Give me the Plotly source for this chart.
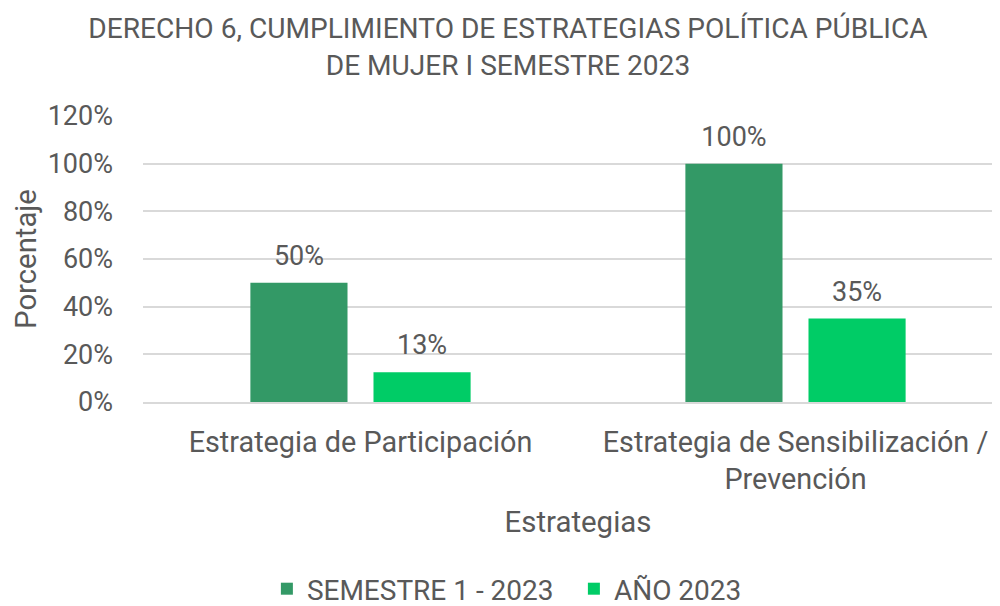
import plotly.graph_objects as go

categories = ["Estrategia de Participación", "Estrategia de Sensibilización /<br>Prevención"]
semestre_vals = [50, 100]
anio_vals = [12.5, 35]
series_names = ["SEMESTRE 1 - 2023", "AÑO 2023"]
series_colors = ["#339966", "#00CC66"]
tick_vals = [0, 20, 40, 60, 80, 100, 120]
tick_text = ["0%", "20%", "40%", "60%", "80%", "100%", "120%"]

GRAY = "#595959"
FONT = "Roboto"

fig = go.Figure()
for name, vals, col in zip(series_names, [semestre_vals, anio_vals], series_colors):
    fig.add_trace(go.Bar(
        x=categories, y=vals, name=name,
        marker=dict(color=col, line=dict(width=0)),
    ))
# value labels, aligned with the grouped bars
for name, vals in zip(series_names, [semestre_vals, anio_vals]):
    fig.add_trace(go.Scatter(
        x=categories, y=vals, mode="markers+text", showlegend=False,
        text=[f"{round(v + 1e-9):.0f}%" for v in vals],
        textposition="top center",
        textfont=dict(size=27, color=GRAY, family=FONT),
        marker=dict(size=16, opacity=0, color="white"),
        cliponaxis=False, hoverinfo="skip",
    ))

fig.update_layout(
    width=1008, height=606,
    paper_bgcolor="white", plot_bgcolor="white",
    font=dict(family=FONT, color=GRAY, size=27),
    barmode="group", bargap=0.434, bargroupgap=0.211,
    scattermode="group", scattergap=0.434,
    margin=dict(l=135, r=3, t=108, b=212),
    title=dict(
        text="DERECHO 6, CUMPLIMIENTO DE ESTRATEGIAS POLÍTICA PÚBLICA<br>DE MUJER I SEMESTRE 2023",
        x=0.496, xanchor="center", y=0.95, yanchor="top",
        font=dict(size=28.1, color=GRAY, family=FONT),
    ),
    xaxis=dict(
        title=dict(text="Estrategias", font=dict(size=29.4, color=GRAY), standoff=16),
        tickfont=dict(size=28.8, color=GRAY),
        showline=True, linecolor="#d9d9d9", linewidth=2,
        ticks="", ticklabelstandoff=13, automargin=False,
    ),
    yaxis=dict(
        title=dict(text="Porcentaje", font=dict(size=29.3, color=GRAY), standoff=2),
        range=[0, 120], tickvals=tick_vals, ticktext=tick_text,
        tickfont=dict(size=27, color=GRAY),
        showgrid=True, gridcolor="#d9d9d9", gridwidth=2,
        zeroline=False, ticks="", ticklabelstandoff=29, automargin=False,
    ),
    legend=dict(
        orientation="h", x=0.1424, xanchor="left",
        yref="container", y=0.0, yanchor="bottom",
        font=dict(size=28, color=GRAY), itemwidth=30, entrywidth=262,
    ),
)

fig.write_html("out.html")
